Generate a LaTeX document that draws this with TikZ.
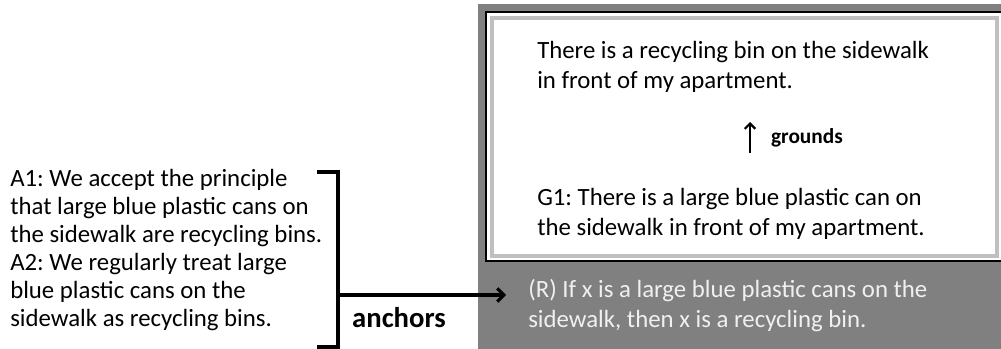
\documentclass[tikz,border=0pt]{standalone}
\usepackage{fontspec}
\setmainfont{Carlito}
\usepackage{tikz}
\usetikzlibrary{positioning,arrows.meta}
\colorlet{panelgray}{black!50}
\colorlet{framegray}{black!25}
\colorlet{rulewhite}{black!6}
\frenchspacing
\tikzset{
  txt/.style={inner sep=0pt, align=left, anchor=north west, font=\fontsize{18.6}{22.5}\selectfont},
  lefttxt/.style={txt, font=\fontsize{18.6}{21}\selectfont},
  lbl/.style={inner sep=0pt, font=\bfseries\fontsize{21.5}{24}\selectfont},
  smlbl/.style={inner sep=0pt, font=\bfseries\fontsize{16}{18}\selectfont},
  barb/.style={-{Straight Barb[length=5pt, width=10pt]}}
}

\begin{document}
\begin{tikzpicture}[x=0.75pt, y=-0.75pt]
        \useasboundingbox (0,0) rectangle (1001,349);
        \fill[panelgray] (478,4) rectangle (1001,349);
        \fill[white, draw=black, line width=2pt] (486,12) rectangle (1004,261);
        \draw[framegray, line width=2.5pt] (492,18) rectangle (997,256);

        \node[txt] (claim) at (537,41) {There is a recycling bin on the sidewalk\\in front of my apartment.};
        \node[txt] (g1) at (537,188) {G1: There is a large blue plastic can on\\the sidewalk in front of my apartment.};
        \node[txt, text=rulewhite] (rule) at (528,279) {(R) If x is a large blue plastic cans on the\\sidewalk, then x is a recycling bin.};
        \node[lefttxt] (a1) at (10,169) {A1: We accept the principle\\that large blue plastic cans on\\the sidewalk are recycling bins.\\A2: We regularly treat large\\blue plastic cans on the\\sidewalk as recycling bins.};

        \coordinate (gfoot) at (750,153);
        \coordinate (ghead) at (750,122);
        \draw[-{Straight Barb[length=4pt, width=8pt]}, line width=1.6pt] (gfoot) -- (ghead) node[midway, right=15pt, smlbl] (grlbl) {grounds};

        \coordinate (brtop) at (317,172);
        \coordinate (brbot) at (317,347);
        \coordinate (brmid) at (338,295);
        \coordinate (rtip) at (506,295);
        \draw[line width=2.3pt] (brtop) -| (brmid) |- (brbot);
        \draw[barb, line width=2.3pt] (brmid) -- (rtip);
        \node[lbl] (anc) at (399,318) {anchors};
    \end{tikzpicture}
\end{document}
